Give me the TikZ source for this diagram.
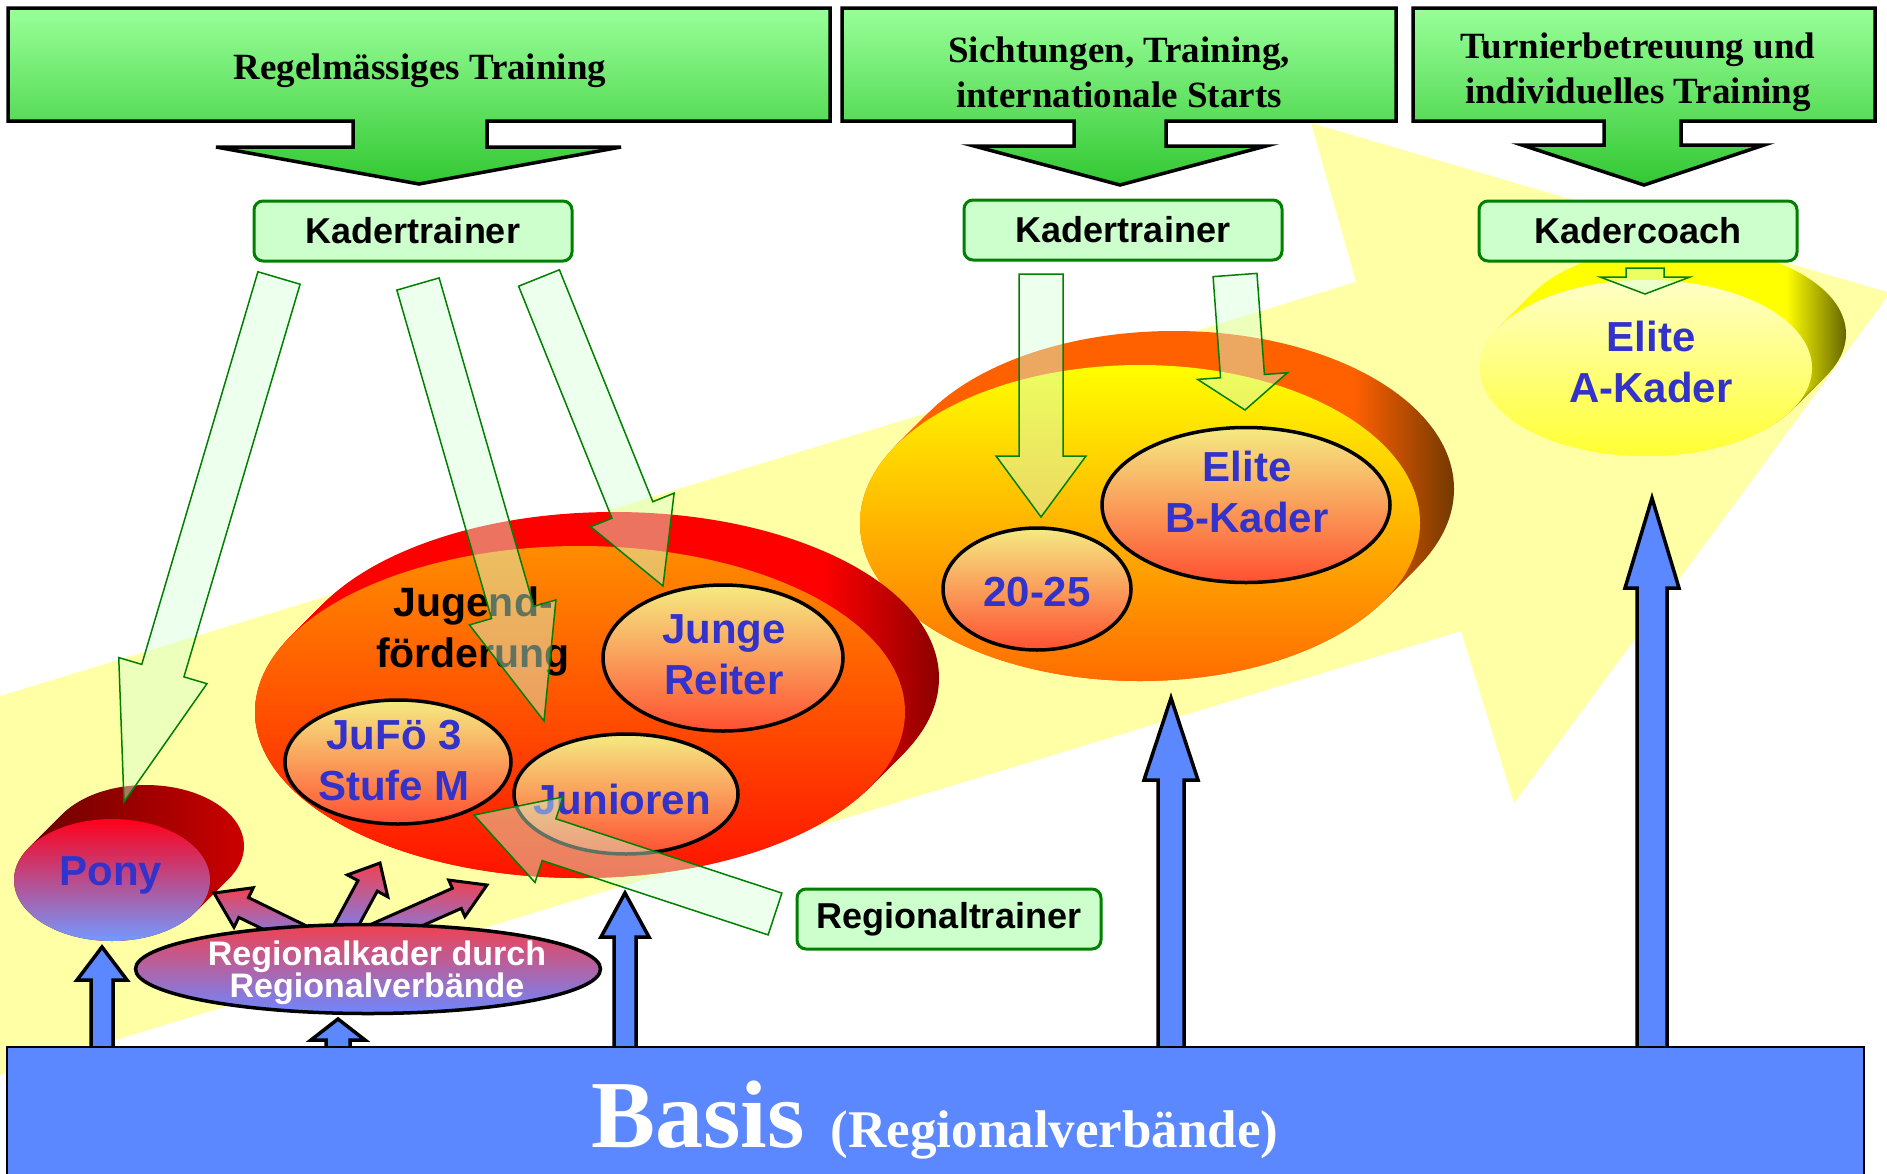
\documentclass[tikz,border=0pt]{standalone}
\usepackage{fontspec}
\setmainfont{Liberation Serif}
\setsansfont{Liberation Sans}
\usepackage{xcolor}
\RequirePackage{tikz}
\usetikzlibrary{positioning,calc,shapes}

\definecolor{bandyellow}{RGB}{255,255,165}
\definecolor{headtop}{RGB}{153,255,153}
\definecolor{headbot}{RGB}{51,200,51}
\definecolor{trainerline}{RGB}{0,128,0}
\definecolor{trainerfill}{RGB}{204,255,204}
\definecolor{basisblue}{RGB}{91,135,255}
\definecolor{labelblue}{RGB}{51,51,204}
\definecolor{innertop}{RGB}{245,235,130}
\definecolor{innerbot}{RGB}{255,80,50}
\definecolor{rkred}{RGB}{240,65,80}
\definecolor{rkblue}{RGB}{110,135,255}

\pgfdeclarehorizontalshading{rimred}{100bp}{color(0bp)=(red); color(66bp)=(red); color(75bp)=(red!55!black); color(100bp)=(red!55!black)}
\pgfdeclarehorizontalshading{rimorange}{100bp}{color(0bp)=(orange!75!red); color(66bp)=(orange!75!red); color(75bp)=(orange!45!black); color(100bp)=(orange!45!black)}
\pgfdeclarehorizontalshading{rimyellow}{100bp}{color(0bp)=(yellow); color(66bp)=(yellow); color(75bp)=(yellow!40!black); color(100bp)=(yellow!40!black)}

\tikzset{
  headbox/.style={draw=black, line width=3.5pt, top color=headtop, bottom color=headbot},
  headtext/.style={font=\bfseries\fontsize{37}{45}\selectfont, align=center},
  trainer/.style={draw=trainerline, line width=3pt, fill=trainerfill, rounded corners=9pt,
    minimum width=318, minimum height=60, inner sep=2pt, font=\sffamily\bfseries\fontsize{36}{40}\selectfont},
  front/.style={ellipse, inner sep=0pt},
  innerdisc/.style={ellipse, inner sep=0pt, draw=black, line width=3.5pt, top color=innertop, bottom color=innerbot},
  bluelabel/.style={text=labelblue, align=center, font=\sffamily\bfseries\fontsize{42}{51}\selectfont},
  lightarrow/.style={fill=trainerfill!80, fill opacity=0.45, draw=trainerline, line width=1.5pt},
  uparrow/.style={fill=basisblue, draw=black, line width=3.5pt},
  redarrow/.style={top color=rkred, bottom color=rkblue, draw=black, line width=3pt}
}

\newcommand{\rimdisc}[4]{%
  \foreach \k in {0,2,...,34}
    \shade[#4] ([shift={(\k,-\k)}]#1) ellipse [x radius=#2, y radius=#3];
}
\newcommand{\blockarrow}[6][]{%
  \coordinate (ba-neck) at ($(#3)!#6!(#2)$);
  \path[#1] ($(#2)!#4!90:(#3)$) -- ($(ba-neck)!#4!90:(#3)$) -- ($(ba-neck)!#5!90:(#3)$) -- (#3)
    -- ($(ba-neck)!#5!-90:(#3)$) -- ($(ba-neck)!#4!-90:(#3)$) -- ($(#2)!#4!-90:(#3)$) -- cycle;
}

\begin{document}
\begin{tikzpicture}[x=1pt, y=-1pt]
\useasboundingbox (0,0) rectangle (1887,1173);

\fill[bandyellow] (0,696) -- (1356,282) -- (1311,123) -- (1890,293) -- (1514,803) -- (1461,631) -- (0,1075) -- cycle;

\path[headbox] (8,8) -- (830,8) -- (830,121) -- (487,121) -- (487,147) -- (621,147) -- (419,184)
  -- (216,147) -- (353,147) -- (353,121) -- (8,121) -- cycle;
\path[headbox] (842,8) -- (1396,8) -- (1396,121) -- (1166,121) -- (1166,146) -- (1266,146) -- (1120,185)
  -- (974,146) -- (1074,146) -- (1074,121) -- (842,121) -- cycle;
\path[headbox] (1413,8) -- (1875,8) -- (1875,121) -- (1681,121) -- (1681,145) -- (1764,145) -- (1644,185)
  -- (1522,145) -- (1604,145) -- (1604,121) -- (1413,121) -- cycle;
\node[headtext] (regel) at (420,71) {Regelmässiges Training};
\node[headtext] (sicht) at (1119,72) {Sichtungen, Training,\\internationale Starts};
\node[headtext] (turnier) at (1638,72) {Turnierbetreuung und\\individuelles Training};

\coordinate (elitec) at (1140,523);
\rimdisc{elitec}{280}{158}{shading=rimorange}
\node[front, minimum width=560, minimum height=316, top color=yellow, bottom color=orange!85!red] (elite) at (elitec) {};
\node[innerdisc, minimum width=188, minimum height=122] (zwanzig) at (1037,589) {};
\node[innerdisc, minimum width=288, minimum height=155] (bkader) at (1246,505) {};
\node[bluelabel] (zwanzigtxt) at ([shift={(0,3)}]zwanzig.center) {20-25};
\node[bluelabel] (bkadertxt) at ([shift={(1,-13)}]bkader.center) {Elite\\B-Kader};

\coordinate (jugendc) at (580,712);
\rimdisc{jugendc}{325}{166}{shading=rimred}
\node[front, minimum width=650, minimum height=332, top color=orange!90!yellow, bottom color=red!85!orange] (jugend) at (jugendc) {};
\node[innerdisc, minimum width=240, minimum height=146] (junge) at (723,658) {};
\node[innerdisc, minimum width=226, minimum height=124] (jufoe) at (398,762) {};
\node[innerdisc, minimum width=224, minimum height=120] (junioren) at (626,794) {};
\node[align=center, font=\sffamily\bfseries\fontsize{41}{51}\selectfont] (jugendtxt) at ([shift={(-107,-81)}]jugend.center) {Jugend-\\förderung};
\node[bluelabel] (jungetxt) at ([shift={(1,-3)}]junge.center) {Junge\\Reiter};
\node[bluelabel] (jufoetxt) at ([shift={(-4,-1)}]jufoe.center) {JuFö 3\\Stufe M};
\node[bluelabel] (juniorentxt) at ([shift={(-4,5)}]junioren.center) {Junioren};

\coordinate (akaderc) at (1646,368);
\rimdisc{akaderc}{166}{88}{shading=rimyellow}
\node[front, minimum width=332, minimum height=176, top color=yellow!22, bottom color=yellow!80] (akader) at (akaderc) {};
\node[bluelabel] (akadertxt) at ([shift={(5,-6)}]akader.center) {Elite\\A-Kader};

\coordinate (ponyc) at (112,880);
\rimdisc{ponyc}{98}{61}{left color=red!45!black, right color=red!80!black}
\node[front, minimum width=196, minimum height=122, top color=red!90!magenta, bottom color=basisblue!85!white] (pony) at (ponyc) {};
\node[bluelabel] (ponytxt) at ([shift={(-1,-5)}]pony.center) {Pony};

\coordinate (r1s) at (300,935); \coordinate (r1t) at (214,893);
\coordinate (r2s) at (341,935); \coordinate (r2t) at (380,863);
\coordinate (r3s) at (374,935); \coordinate (r3t) at (487,885);
\blockarrow[redarrow]{r1s}{r1t}{11pt}{22pt}{33pt}
\blockarrow[redarrow]{r2s}{r2t}{11pt}{23pt}{26pt}
\blockarrow[redarrow]{r3s}{r3t}{11pt}{20pt}{33pt}
\node[ellipse, inner sep=0pt, draw=black, line width=3.5pt, top color=rkred, bottom color=rkblue,
  minimum width=465, minimum height=89] (regkader) at (368,969) {};
\node[text=white, align=center, font=\sffamily\bfseries\fontsize{34}{32}\selectfont] (regkadertxt)
  at ([shift={(9,4)}]regkader.center) {Regionalkader durch\\Regionalverbände};

\node[trainer] (kt1) at (413,231) {Kadertrainer};
\node[trainer] (kt2) at (1123,230) {Kadertrainer};
\node[trainer] (kcoach) at (1638,231) {Kadercoach};
\node[trainer, minimum width=304] (rtrainer) at (949,919) {Regionaltrainer};

\coordinate (g1s) at (279,278); \coordinate (g1t) at (124,802);
\coordinate (g2s) at (418,284); \coordinate (g2t) at (544,721);
\coordinate (g3s) at (539,278); \coordinate (g3t) at (663,586);
\coordinate (g4s) at (1041,274); \coordinate (g4t) at (1041,517);
\coordinate (g5s) at (1235,275); \coordinate (g5t) at (1245,410);
\coordinate (g6s) at (1645,268); \coordinate (g6t) at (1645,294);
\coordinate (g7s) at (775,914); \coordinate (g7t) at (474,815);
\blockarrow[lightarrow]{g1s}{g1t}{22pt}{46pt}{137pt}
\blockarrow[lightarrow]{g2s}{g2t}{22pt}{45pt}{113pt}
\blockarrow[lightarrow]{g3s}{g3t}{22pt}{45pt}{82pt}
\blockarrow[lightarrow]{g4s}{g4t}{22pt}{45pt}{61pt}
\blockarrow[lightarrow]{g5s}{g5t}{22pt}{45pt}{34pt}
\blockarrow[lightarrow]{g6s}{g6t}{19pt}{45pt}{17pt}
\blockarrow[lightarrow]{g7s}{g7t}{22pt}{45pt}{79pt}

\coordinate (b1s) at (102,1050); \coordinate (b1t) at (102,947);
\coordinate (b2s) at (338,1050); \coordinate (b2t) at (338,1019);
\coordinate (b3s) at (625,1050); \coordinate (b3t) at (625,893);
\coordinate (b4s) at (1171,1050); \coordinate (b4t) at (1171,698);
\coordinate (b5s) at (1652,1050); \coordinate (b5t) at (1652,498);
\blockarrow[uparrow]{b1s}{b1t}{11pt}{25pt}{33pt}
\blockarrow[uparrow]{b2s}{b2t}{12pt}{27pt}{21pt}
\blockarrow[uparrow]{b3s}{b3t}{11pt}{24pt}{44pt}
\blockarrow[uparrow]{b4s}{b4t}{13pt}{27pt}{82pt}
\blockarrow[uparrow]{b5s}{b5t}{15pt}{27pt}{90pt}

\node[draw=black, line width=2pt, fill=basisblue, minimum width=1857, minimum height=150, anchor=north west] (basis) at (6,1046) {};
\node[anchor=base, text=white, font=\bfseries] (basistxt) at (935,1147)
  {{\fontsize{96}{100}\selectfont Basis}\hspace{26pt}{\fontsize{53}{60}\selectfont (Regionalverbände)}};
\end{tikzpicture}
\end{document}
